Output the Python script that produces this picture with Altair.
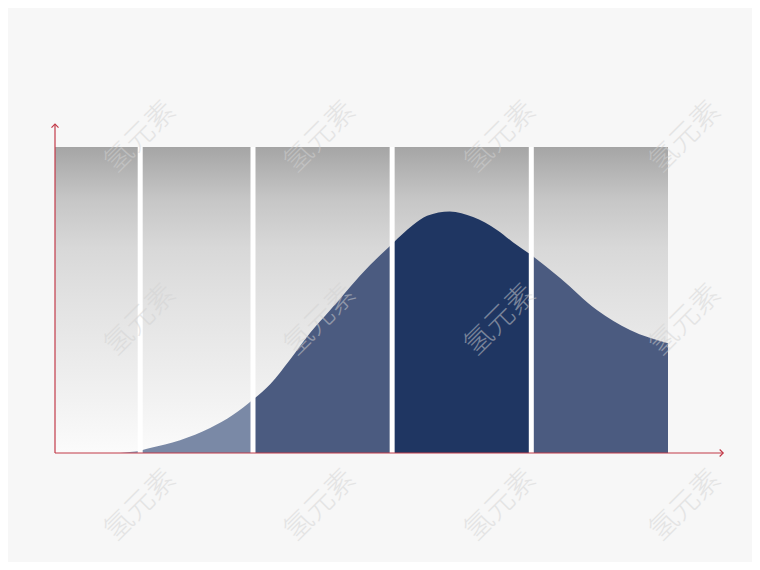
import altair as alt
import pandas as pd

# ---- values (x: 0..100 across the grey panel, y: 0..100 panel height)
curve_x = [10.6, 12.2, 13.9, 15.5, 20.4, 25.3, 29.0, 32.3, 35.1, 38.3, 41.6, 44.9, 48.1,
           51.4, 55.0, 58.4, 60.7, 64.4, 68.2, 72.1, 74.7, 77.7, 82.4, 88.4, 93.8, 100.0]
curve_y = [0.0, 0.3, 0.7, 1.6, 4.2, 8.2, 12.4, 17.5, 22.5, 30.4, 39.2, 46.7, 54.2,
           61.4, 68.3, 74.5, 77.5, 78.9, 77.1, 72.9, 68.9, 64.7, 57.2, 46.7, 40.2, 35.9]

column_edges = [0.0, 13.9, 32.3, 55.0, 77.7, 100.0]
segment_names = ["A", "B", "C", "D", "E"]
segment_colors = ["#8a98b3", "#7a89a6", "#4b5b80", "#1f3662", "#4b5b80"]

panel_x = [0.0, 100.0]
panel_y = [0.0, 100.0]
separators = [13.9, 32.3, 55.0, 77.7]

axis_y_top = 107.5
axis_x_end = 109.0

wm_x = [13.9, 43.2, 72.6, 102.8]
wm_y = [103.3, 43.5, -17.0]
wm_text = "氢元素"

# ---- tables
rows = []
for i, name in enumerate(segment_names):
    a, b = column_edges[i], column_edges[i + 1]
    for x, y in zip(curve_x, curve_y):
        if a <= x <= b:
            rows.append({"x": x, "y": y, "seg": name})
curve_df = pd.DataFrame(rows)

panel_df = pd.DataFrame({"x": [panel_x[0]], "x2": [panel_x[1]], "y": [panel_y[0]], "y2": [panel_y[1]]})
sep_df = pd.DataFrame({"x": separators, "y": [panel_y[0]] * 4, "y2": [panel_y[1]] * 4})
axes_df = pd.DataFrame({"x": [0.0, 0.0], "x2": [0.0, axis_x_end], "y": [0.0, 0.0], "y2": [axis_y_top, 0.0]})
wm_df = pd.DataFrame([{"x": x, "y": y, "t": wm_text} for y in wm_y for x in wm_x])

xs = alt.Scale(domain=[0, 100], nice=False, zero=False)
ys = alt.Scale(domain=[0, 100], nice=False, zero=False)
red = "#c23a48"

panel = alt.Chart(panel_df).mark_rect(
    color=alt.Gradient(
        gradient="linear",
        stops=[
            alt.GradientStop(color="#a5a5a5", offset=0),
            alt.GradientStop(color="#c6c6c6", offset=0.17),
            alt.GradientStop(color="#d8d8d8", offset=0.33),
            alt.GradientStop(color="#e2e2e2", offset=0.5),
            alt.GradientStop(color="#eeeeee", offset=0.75),
            alt.GradientStop(color="#fbfbfb", offset=1),
        ],
        x1=0, x2=0, y1=0, y2=1,
    )
).encode(
    x=alt.X("x:Q", scale=xs, axis=None), x2="x2:Q",
    y=alt.Y("y:Q", scale=ys, axis=None), y2="y2:Q",
)

area = alt.Chart(curve_df).mark_area(interpolate="monotone").encode(
    x=alt.X("x:Q", scale=xs, axis=None),
    y=alt.Y("y:Q", scale=ys, axis=None, stack=None),
    color=alt.Color("seg:N", scale=alt.Scale(domain=segment_names, range=segment_colors), legend=None),
)

seps = alt.Chart(sep_df).mark_rule(color="#ffffff", strokeWidth=5).encode(
    x=alt.X("x:Q", scale=xs, axis=None),
    y=alt.Y("y:Q", scale=ys, axis=None), y2="y2:Q",
)

axes = alt.Chart(axes_df).mark_rule(color=red, strokeWidth=1.2, clip=False).encode(
    x=alt.X("x:Q", scale=xs, axis=None), x2="x2:Q",
    y=alt.Y("y:Q", scale=ys, axis=None), y2="y2:Q",
)

arrow_up = alt.Chart(pd.DataFrame({"x": [0.0], "y": [axis_y_top]})).mark_point(
    shape="M-1,1L0,0L1,1", filled=False, color=red, strokeWidth=1.2, size=49, opacity=1, clip=False
).encode(x=alt.X("x:Q", scale=xs, axis=None), y=alt.Y("y:Q", scale=ys, axis=None))

arrow_right = alt.Chart(pd.DataFrame({"x": [axis_x_end], "y": [0.0]})).mark_point(
    shape="M-1,-1L0,0L-1,1", filled=False, color=red, strokeWidth=1.2, size=49, opacity=1, clip=False
).encode(x=alt.X("x:Q", scale=xs, axis=None), y=alt.Y("y:Q", scale=ys, axis=None))

watermark = alt.Chart(wm_df).mark_text(
    font="Noto Sans CJK SC", fontSize=29, fontWeight=300, angle=315,
    color="#d2d2d2", opacity=0.5, clip=False
).encode(
    x=alt.X("x:Q", scale=xs, axis=None),
    y=alt.Y("y:Q", scale=ys, axis=None),
    text="t:N",
)

chart = alt.layer(panel, area, seps, axes, arrow_up, arrow_right, watermark).properties(
    width=613, height=306,
    padding={"left": 47, "top": 139, "right": 84, "bottom": 109},
    autosize=alt.AutoSizeParams(type="none"),
    background="#f7f7f7",
).configure_view(stroke=None)

chart.save("out.html", embed_options={"renderer": "svg", "actions": False})
